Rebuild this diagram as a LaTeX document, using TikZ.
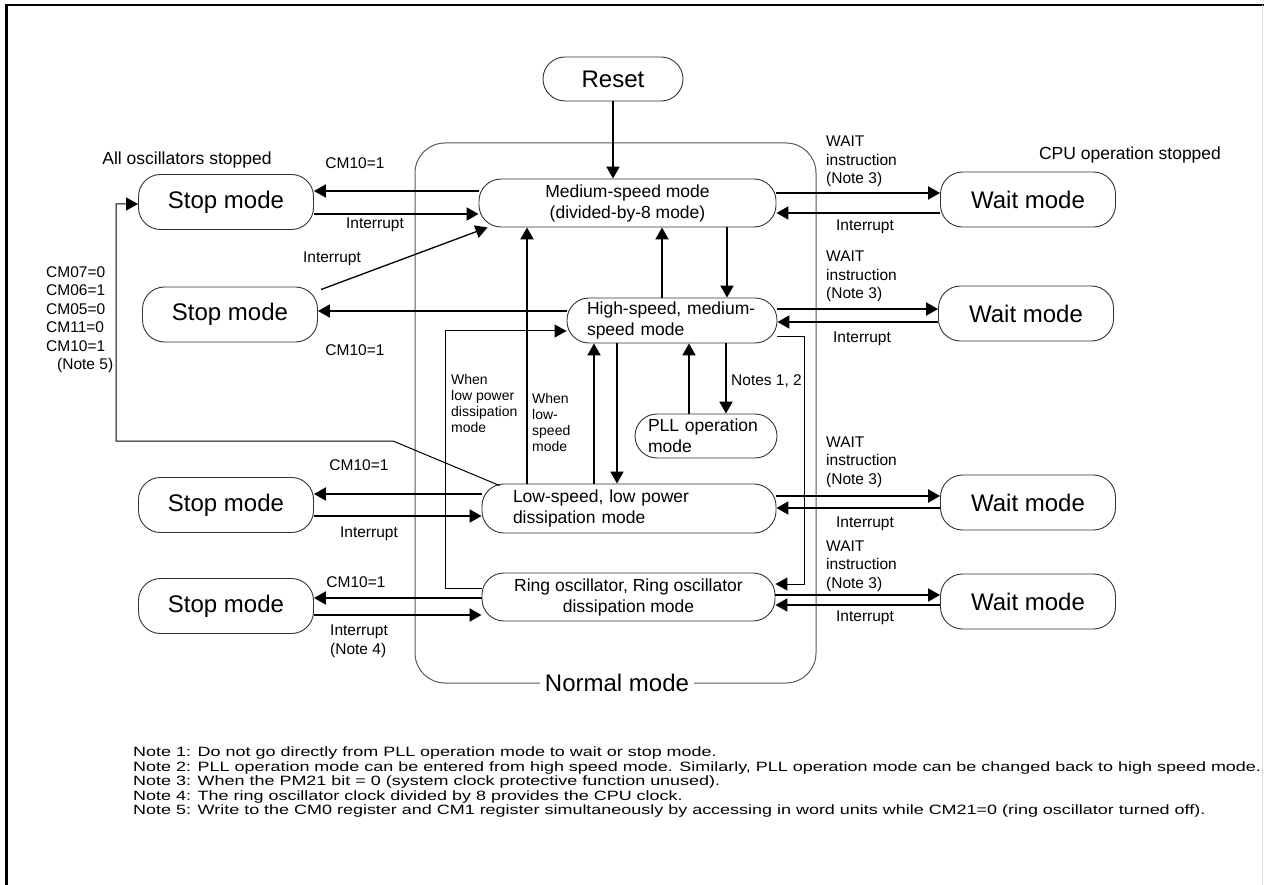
\documentclass[tikz,border=0pt]{standalone}
\usepackage{fontspec}
\setmainfont{Liberation Sans}
\newfontfamily\notefont[FakeStretch=1.33]{Liberation Sans}
\usetikzlibrary{arrows.meta,calc}
\begin{document}
\begin{tikzpicture}[x=1pt,y=-1pt,
  mode/.style={draw=black!80, line width=0.9pt, rounded corners=22pt, inner sep=0pt},
  bigmode/.style={mode, font=\fontsize{24}{29}\selectfont, minimum width=175pt, minimum height=55pt},
  inmode/.style={mode, font=\fontsize{17.5}{21}\selectfont, align=center},
  arr/.style={line width=2pt, -{Triangle[length=12pt,width=13pt]}},
  thinarr/.style={line width=1pt, -{Triangle[length=12pt,width=13pt]}},
  lbl/.style={font=\fontsize{15.5}{18.5}\selectfont, inner sep=0pt, align=left},
  slbl/.style={font=\fontsize{14}{16}\selectfont, inner sep=0pt, align=left},
  head/.style={font=\fontsize{17.5}{21}\selectfont, inner sep=0pt},
  notestyle/.style={font=\notefont\fontsize{13.5}{14.5}\selectfont, inner sep=0pt, align=left}
]
\useasboundingbox (0,0) rectangle (1264,885);
% frame
\draw[line width=2.5pt] (6.5,885) -- (6.5,5) -- (1264,5);
\draw[black!15, line width=1pt] (1262.5,5) -- (1262.5,885);

% normal mode container
\draw[black!65, line width=1pt, rounded corners=30pt] (415,143) rectangle (816,683);
\node[fill=white, inner xsep=5pt, inner ysep=0pt, font=\fontsize{24}{29}\selectfont] (normal) at (617,683) {Normal mode};

% nodes
\node[bigmode, minimum width=140pt, minimum height=44pt] (reset) at (613,79) {Reset};
\node[inmode, minimum width=297pt, minimum height=48pt] (med) at (627.5,203) {Medium-speed mode\\(divided-by-8 mode)};
\node[inmode, minimum width=210pt, minimum height=45pt, text width=170pt, align=left] (high) at (672,320.5) {High-speed, medium-\\speed mode};
\node[inmode, minimum width=142pt, minimum height=44pt, text width=116pt, align=left] (pll) at (706,436) {PLL operation\\mode};
\node[inmode, minimum width=294pt, minimum height=49pt, text width=232pt, align=left] (low) at (629,508.5) {Low-speed, low power\\dissipation mode};
\node[inmode, minimum width=293pt, minimum height=48pt] (ring) at (628.5,597) {Ring oscillator, Ring oscillator\\dissipation mode};

\node[bigmode] (stop1) at (226,202) {Stop mode};
\node[bigmode] (stop2) at (230,314.5) {Stop mode};
\node[bigmode] (stop3) at (226,505) {Stop mode};
\node[bigmode] (stop4) at (226,606) {Stop mode};
\node[bigmode] (wait1) at (1028,199.5) {Wait mode};
\node[bigmode] (wait2) at (1026,313.5) {Wait mode};
\node[bigmode] (wait3) at (1028,502.5) {Wait mode};
\node[bigmode] (wait4) at (1028,601.5) {Wait mode};

% headings
\node[head] (allosc) at (187,160) {All oscillators stopped};
\node[head] (cpustop) at (1130,155) {CPU operation stopped};

% internal transitions
\draw[arr] (reset) -- (reset |- med.north);
\draw[arr] (662,0 |- high.north) -- (662,0 |- med.south);
\draw[arr] (727,0 |- med.south) -- (727,0 |- high.north);
\draw[arr] (527,0 |- low.north) -- (527,0 |- med.south);
\draw[arr] (594,0 |- low.north) -- (594,0 |- high.south);
\draw[arr] (617,0 |- high.south) -- (617,0 |- low.north);
\draw[arr] (689,0 |- pll.north) -- (689,0 |- high.south);
\draw[arr] (726,0 |- high.south) -- (726,0 |- pll.north);
\draw[thinarr] (ring.west |- 0,588) -- (445,588) |- (high.west |- 0,331);
\draw[thinarr] (high.east |- 0,337) -- (804,337) |- (ring.east |- 0,584);
\draw[thinarr] ($(low.north west)+(18,2)$) -- (393,441) -- (116,441) |- (stop1.west |- 0,204);

\node[slbl, anchor=west] (whenlp) at (451,403) {When\\low power\\dissipation\\mode};
\node[slbl, anchor=west] (whenls) at (532,422) {When\\low-\\speed\\mode};
\node[lbl, anchor=west] (notes12) at (731,381) {Notes 1, 2};

% stop side
\draw[arr] (med.west |- 0,191) -- (stop1.east |- 0,191);
\draw[arr] (stop1.east |- 0,214) -- (med.west |- 0,214);
\draw[line width=1.3pt, -{Triangle[length=12pt,width=13pt]}] ($(stop2.north east)+(3,3)$) -- ($(med.south west)+(9,0)$);
\draw[arr] (high.west |- 0,311) -- (stop2.east |- 0,311);
\draw[arr] (low.west |- 0,494) -- (stop3.east |- 0,494);
\draw[arr] (stop3.east |- 0,516) -- (low.west |- 0,516);
\draw[arr] (ring.west |- 0,598) -- (stop4.east |- 0,598);
\draw[arr] (stop4.east |- 0,615) -- (ring.west |- 0,615);

\node[lbl] (l1) at (355,163) {CM10=1};
\node[lbl] (l2) at (375,225) {Interrupt};
\node[lbl] (l3) at (332,259) {Interrupt};
\node[lbl] (l4) at (355,350) {CM10=1};
\node[lbl] (l5) at (359,465) {CM10=1};
\node[lbl] (l6) at (369,534) {Interrupt};
\node[lbl] (l7) at (356,582) {CM10=1};
\node[lbl, anchor=west] (l8) at (330,641.5) {Interrupt\\(Note 4)};
\node[lbl, anchor=west] (cmblk) at (46,319.5) {CM07=0\\CM06=1\\CM05=0\\CM11=0\\CM10=1\\\hspace*{11pt}(Note 5)};

% wait side
\draw[arr] (med.east |- 0,193) -- (wait1.west |- 0,193);
\draw[arr] (wait1.west |- 0,213) -- (med.east |- 0,213);
\draw[arr] (high.east |- 0,309) -- (wait2.west |- 0,309);
\draw[arr] (wait2.west |- 0,322) -- (high.east |- 0,322);
\draw[arr] (low.east |- 0,496) -- (wait3.west |- 0,496);
\draw[arr] (wait3.west |- 0,508) -- (low.east |- 0,508);
\draw[arr] (ring.east |- 0,595) -- (wait4.west |- 0,595);
\draw[arr] (wait4.west |- 0,605) -- (ring.east |- 0,605);

\node[lbl, anchor=west] (w1) at (826,161.5) {WAIT\\instruction\\(Note 3)};
\node[lbl, anchor=west] (w2) at (826,276.5) {WAIT\\instruction\\(Note 3)};
\node[lbl, anchor=west] (w3) at (826,462) {WAIT\\instruction\\(Note 3)};
\node[lbl, anchor=west] (w4) at (826,566) {WAIT\\instruction\\(Note 3)};
\node[lbl] (i1) at (865,227) {Interrupt};
\node[lbl] (i2) at (862,339) {Interrupt};
\node[lbl] (i3) at (865,524) {Interrupt};
\node[lbl] (i4) at (865,618) {Interrupt};

% notes
\node[notestyle, anchor=north west] (notes) at (133,747) {Note 1: Do not go directly from PLL operation mode to wait or stop mode.\\
Note 2: PLL operation mode can be entered from high speed mode. Similarly, PLL operation mode can be changed back to high speed mode.\\
Note 3: When the PM21 bit = 0 (system clock protective function unused).\\
Note 4: The ring oscillator clock divided by 8 provides the CPU clock.\\
Note 5: Write to the CM0 register and CM1 register simultaneously by accessing in word units while CM21=0 (ring oscillator turned off).};
\end{tikzpicture}
\end{document}
